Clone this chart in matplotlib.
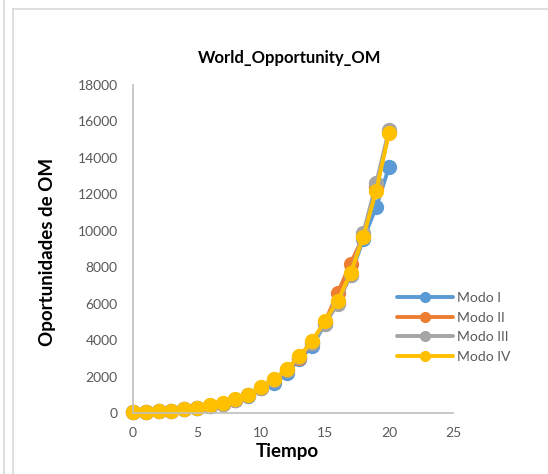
import matplotlib.pyplot as plt
from matplotlib.lines import Line2D

plt.rcParams['font.family'] = ['Lato', 'DejaVu Sans']

tiempo = list(range(0, 21))
modo_1 = [50, 70, 90, 130, 200, 290, 410, 520, 730, 960, 1350, 1620, 2200, 2950, 3650, 4900, 6100, 7550, 9550, 11300, 13500]
modo_2 = [50, 70, 90, 130, 200, 290, 410, 520, 740, 980, 1380, 1800, 2350, 3000, 3850, 5000, 6600, 8200, 9700, 12400, 15400]
modo_3 = [50, 70, 90, 130, 200, 290, 410, 520, 740, 980, 1390, 1820, 2380, 3050, 3850, 4900, 6000, 7600, 9900, 12600, 15550]
modo_4 = [50, 70, 90, 130, 200, 290, 420, 530, 750, 990, 1410, 1850, 2400, 3130, 3950, 5070, 6160, 7670, 9680, 12200, 15360]

series = [
    ('Modo I', modo_1, '#5B9BD5'),
    ('Modo II', modo_2, '#ED7D31'),
    ('Modo III', modo_3, '#A5A5A5'),
    ('Modo IV', modo_4, '#FFC000'),
]

W, H = 548, 474
fig = plt.figure(figsize=(W / 100, H / 100), dpi=100)

# marcos de la hoja
fig.add_artist(Line2D([4/W, 4/W], [0, 1], color='#d9d9d9', lw=1.2))
fig.add_artist(Line2D([13/W, 13/W], [0, 1 - 9/H], color='#d9d9d9', lw=1.2))
fig.add_artist(Line2D([13/W, 1], [1 - 9/H, 1 - 9/H], color='#d9d9d9', lw=1.2))

ax = fig.add_axes([133/W, 61/H, 320/W, 328/H])

for nombre, valores, color in series:
    ax.plot(tiempo, valores, color=color, lw=2.8, marker='o', markersize=10,
            label=nombre, solid_capstyle='round', clip_on=False)

ax.set_xlim(0, 25)
ax.set_ylim(0, 18000)
ax.set_xticks(range(0, 26, 5))
ax.set_yticks(range(0, 18001, 2000))
ax.tick_params(length=0, labelsize=10, labelcolor='#595959')
ax.tick_params(axis='y', pad=11)
ax.tick_params(axis='x', pad=10)

for s in ['top', 'right']:
    ax.spines[s].set_visible(False)
for s in ['left', 'bottom']:
    ax.spines[s].set_color('#BFBFBF')
    ax.spines[s].set_linewidth(1.2)

fig.text(290/W, 1 - 58/H, 'World_Opportunity_OM', ha='center', va='center',
         fontsize=12, fontweight='bold', color='black')
fig.text(287/W, 1 - 452/H, 'Tiempo', ha='center', va='center',
         fontsize=13.5, fontweight='bold', color='black')
fig.text(48/W, 1 - 252/H, 'Oportunidades de OM', ha='center', va='center',
         rotation=90, fontsize=13.5, fontweight='bold', color='black')

leg = ax.legend(loc='upper left', bbox_to_anchor=((397 - 133) / 320, (413 - 292) / 328),
                frameon=False, fontsize=10, handlelength=4.0, handletextpad=0.35,
                labelspacing=0.55, borderaxespad=0, borderpad=0, markerscale=0.7)
for t in leg.get_texts():
    t.set_color('#595959')

fig.savefig('out.png', dpi=100)
